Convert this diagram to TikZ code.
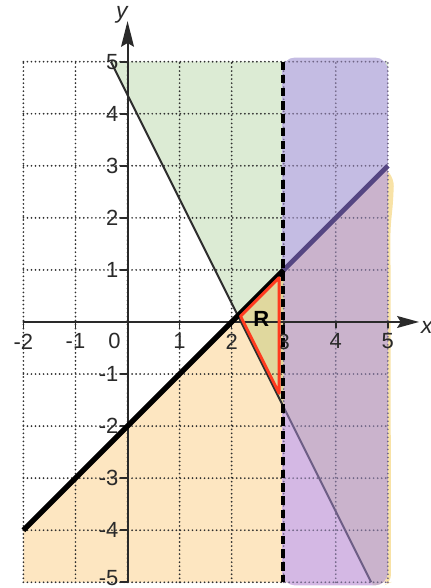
\documentclass[tikz,border=0pt]{standalone}
\usepackage{fontspec}
\setmainfont{Liberation Sans}
\usetikzlibrary{arrows.meta}
\definecolor{gfill}{HTML}{DCEBD4}
\definecolor{ofill}{HTML}{FDE6C1}
\definecolor{rfill}{HTML}{E0D89E}
\definecolor{pgfill}{HTML}{C4BCE3}
\definecolor{pgofill}{HTML}{CAB3CC}
\definecolor{pofill}{HTML}{D4B8E4}
\definecolor{gridc}{HTML}{2E2E2E}
\definecolor{gridp}{HTML}{6F6585}
\definecolor{purpline}{HTML}{554682}
\definecolor{thinp}{HTML}{6E5E86}
\definecolor{redc}{HTML}{FF3B1F}
\definecolor{labc}{HTML}{2A2A2A}
\definecolor{yelc}{HTML}{F8E2A6}
\tikzset{
  gridline/.style={line width=1.05pt, dash pattern=on 0pt off 2.2pt, line cap=round},
  axisline/.style={line width=1.1pt, draw=labc},
  ticklab/.style={font=\fontsize{12}{13}\selectfont, text=labc, inner sep=0pt},
  axlab/.style={font=\fontsize{12.5}{13}\selectfont\itshape, text=labc, inner sep=0pt},
  thinline/.style={line width=1.1pt, draw=gridc},
  boldline/.style={line width=2.9pt, draw=black},
  dashline/.style={line width=2.3pt, draw=black, dash pattern=on 4.6pt off 2.6pt},
}
\begin{document}
\begin{tikzpicture}[x=1cm,y=1cm]
\useasboundingbox (-2.45,-5.11) rectangle (5.81,6.185);
% key points
\coordinate (tA) at (-0.32,5);
\coordinate (tI) at (2.12,0.12);
\coordinate (tD) at (3,-1.64);
\coordinate (tB) at (4.68,-5);
\coordinate (bA) at (-2,-4);
\coordinate (bD) at (3,1);
\coordinate (bB) at (5,3);
% base regions
\fill[gfill] (tA) -- (tI) -- (bB) -- (5,5) -- cycle;
\fill[ofill] (bA) -- (bB) -- (5,-5) -- (-2,-5) -- cycle;
\fill[rfill] (tI) -- (bD) -- (tD) -- cycle;
\fill[yelc, rounded corners=4pt] (4.95,-5.05) -- (4.95,2.95) -- (5.12,2.75) -- (5.1,2.3) -- (5.05,1.8) -- (5.06,-5.0) -- cycle;
% purple highlighter
\begin{scope}
  \clip[rounded corners=7pt] (2.97,-5.06) rectangle (5.0,5.08);
  \fill[pgfill] (bD) -- (bB) -- (5.2,3.2) -- (5.2,5.2) -- (2.9,5.2) -- (2.9,1) -- cycle;
  \fill[pgofill] (bD) -- (bB) -- (5.2,3.2) -- (5.2,-5.2) -- (4.78,-5.2) -- (tD) -- cycle;
  \fill[pofill] (tD) -- (4.78,-5.2) -- (2.9,-5.2) -- (2.9,-1.64) -- cycle;
\end{scope}
% grid
\begin{scope}
  \clip (-2.1,-5.1) rectangle (2.99,5.1);
  \draw[gridline, draw=gridc] (-2,-5) grid (5,5);
\end{scope}
\begin{scope}
  \clip (2.99,-5.1) rectangle (5.1,5.1);
  \draw[gridline, draw=gridp] (-2,-5) grid (5,5);
\end{scope}
% thin boundary line
\draw[thinline] (tA) -- (tD);
\draw[thinline, draw=thinp] (tD) -- (tB);
% axes
\coordinate (xs) at (-2,0);
\coordinate (xe) at (5.6,0);
\coordinate (ys) at (0,-5);
\coordinate (ye) at (0,5.78);
\draw[axisline, -{Stealth[length=12pt,width=6.5pt,inset=2pt]}] (xs) -- (xe);
\draw[axisline, -{Stealth[length=14pt,width=7pt,inset=2pt]}] (ys) -- (ye);
\foreach \x in {-2,-1,1,2,3,4,5} {
  \draw[axisline, line width=0.9pt] (\x,0) -- (\x,-0.12);
}
\foreach \y in {-5,-4,-3,-2,-1,1,2,3,4,5} {
  \draw[axisline, line width=0.9pt] (0,\y) -- (-0.15,\y);
}
% bold boundary line
\draw[boldline] (bA) -- (bD);
\draw[line width=2.6pt, draw=purpline] (bD) -- (bB);
% dashed line
\coordinate (dT) at (2.98,5);
\coordinate (dB) at (2.98,-5);
\draw[dashline] (dT) -- (dB);
% tick labels
\foreach \x in {-2,-1,1,2,3,4,5} {
  \node[ticklab, anchor=north] (xl\x) at (\x,-0.22) {\ifnum\x<0 -\number\numexpr-\x\relax\else\x\fi};
}
\node[ticklab, anchor=north] (xl0) at (-0.25,-0.2) {0};
\foreach \y in {-4,-3,-2,-1,1,2,3,4,5} {
  \node[ticklab, anchor=east] (yl\y) at (-0.17,\y) {\ifnum\y<0 -\number\numexpr-\y\relax\else\y\fi};
}
\node[ticklab, anchor=south east] (yl-5) at (-0.17,-5.08) {-5};
\node[axlab, anchor=west] (xlab) at (5.63,-0.1) {x};
\node[axlab] (ylab) at (-0.11,5.9) {y};
% region R
\coordinate (r1) at (2.17,0.11);
\coordinate (r2) at (2.91,0.85);
\coordinate (r3) at (2.91,-1.37);
\draw[redc, line width=1.6pt, line join=round] (r1) -- (r2) -- (r3) -- cycle;
\node[font=\fontsize{12}{13}\selectfont\bfseries, inner sep=0pt] (Rlab) at (2.57,0.05) {R};
\end{tikzpicture}
\end{document}
